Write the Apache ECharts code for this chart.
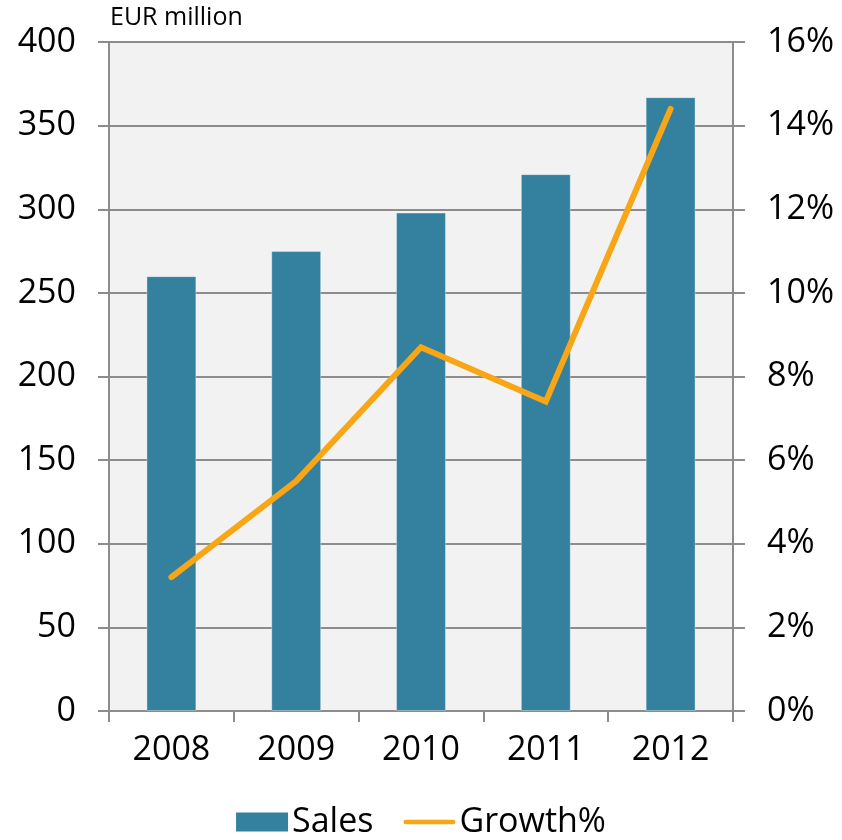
<!DOCTYPE html>
<html>
<head>
<meta charset="utf-8">
<script src="https://cdn.jsdelivr.net/npm/echarts@6/dist/echarts.min.js"></script>
<style>
  html, body { margin: 0; padding: 0; background: #ffffff; }
  #chart { width: 842px; height: 840px; }
</style>
</head>
<body>
<div id="chart"></div>
<script>
// Annual sales (EUR million) and year-on-year growth
const years = ['2008', '2009', '2010', '2011', '2012'];
const sales = [260, 275, 298, 321, 367];
const growth = [3.2, 5.5, 8.7, 7.4, 14.4];
const salesTicks = { min: 0, max: 400, interval: 50 };
const growthTicks = { min: 0, max: 16, interval: 2 };

const FONT = '"Open Sans", "DejaVu Sans", sans-serif';
const GRID_GRAY = '#8c8c8c';
const BAR_COLOR = '#33809f';
const LINE_COLOR = '#f8a516';

const chart = echarts.init(document.getElementById('chart'), null, { renderer: 'canvas' });

chart.setOption({
  animation: false,
  backgroundColor: '#ffffff',
  textStyle: { fontFamily: FONT, color: '#000000' },
  title: {
    text: 'EUR million',
    left: 105,
    top: 0,
    textStyle: { fontFamily: FONT, fontSize: 25, fontWeight: 'normal', color: '#000000' }
  },
  grid: {
    left: 109, right: 109, top: 42, bottom: 129,
    show: true, backgroundColor: '#f2f2f2', borderWidth: 0
  },
  legend: {
    bottom: -4,
    left: 'center',
    itemGap: 30,
    itemWidth: 52,
    itemHeight: 19,
    textStyle: { fontFamily: FONT, fontSize: 34, color: '#000000', padding: [0, 0, 0, -1] },
    data: [
      { name: 'Sales', icon: 'rect', itemStyle: { color: BAR_COLOR, borderWidth: 0 } },
      { name: 'Growth%', icon: 'path://M2,0H54A2,2 0 0 1 54,5H2A2,2 0 0 1 2,0Z', itemStyle: { color: LINE_COLOR, borderWidth: 0 } }
    ]
  },
  xAxis: {
    type: 'category',
    data: years,
    boundaryGap: true,
    axisLine: { show: true, lineStyle: { color: GRID_GRAY, width: 2 } },
    axisTick: { show: true, length: 11, lineStyle: { color: GRID_GRAY, width: 2 } },
    axisLabel: { fontFamily: FONT, fontSize: 34, color: '#000000', margin: 22 }
  },
  yAxis: [
    {
      type: 'value',
      min: salesTicks.min, max: salesTicks.max, interval: salesTicks.interval,
      position: 'left',
      axisLine: { show: true, lineStyle: { color: GRID_GRAY, width: 2 } },
      axisTick: { show: true, length: 11, lineStyle: { color: GRID_GRAY, width: 2 } },
      splitLine: { show: true, lineStyle: { color: GRID_GRAY, width: 2 } },
      axisLabel: { fontFamily: FONT, fontSize: 34, color: '#000000', margin: 33 }
    },
    {
      type: 'value',
      min: growthTicks.min, max: growthTicks.max, interval: growthTicks.interval,
      position: 'right',
      axisLine: { show: true, lineStyle: { color: GRID_GRAY, width: 2 } },
      axisTick: { show: true, length: 12, lineStyle: { color: GRID_GRAY, width: 2 } },
      splitLine: { show: false },
      axisLabel: { fontFamily: FONT, fontSize: 34, color: '#000000', margin: 34, formatter: '{value}%' }
    }
  ],
  series: [
    {
      name: 'Sales',
      type: 'bar',
      yAxisIndex: 0,
      data: sales,
      barWidth: '40%',
      itemStyle: { color: BAR_COLOR, borderColor: 'rgba(255,255,255,0.35)', borderWidth: 1 }
    },
    {
      name: 'Growth%',
      type: 'line',
      yAxisIndex: 1,
      data: growth,
      symbol: 'none',
      showSymbol: false,
      lineStyle: { color: LINE_COLOR, width: 6, cap: 'round', join: 'miter' },
      itemStyle: { color: LINE_COLOR }
    }
  ]
});
</script>
</body>
</html>
